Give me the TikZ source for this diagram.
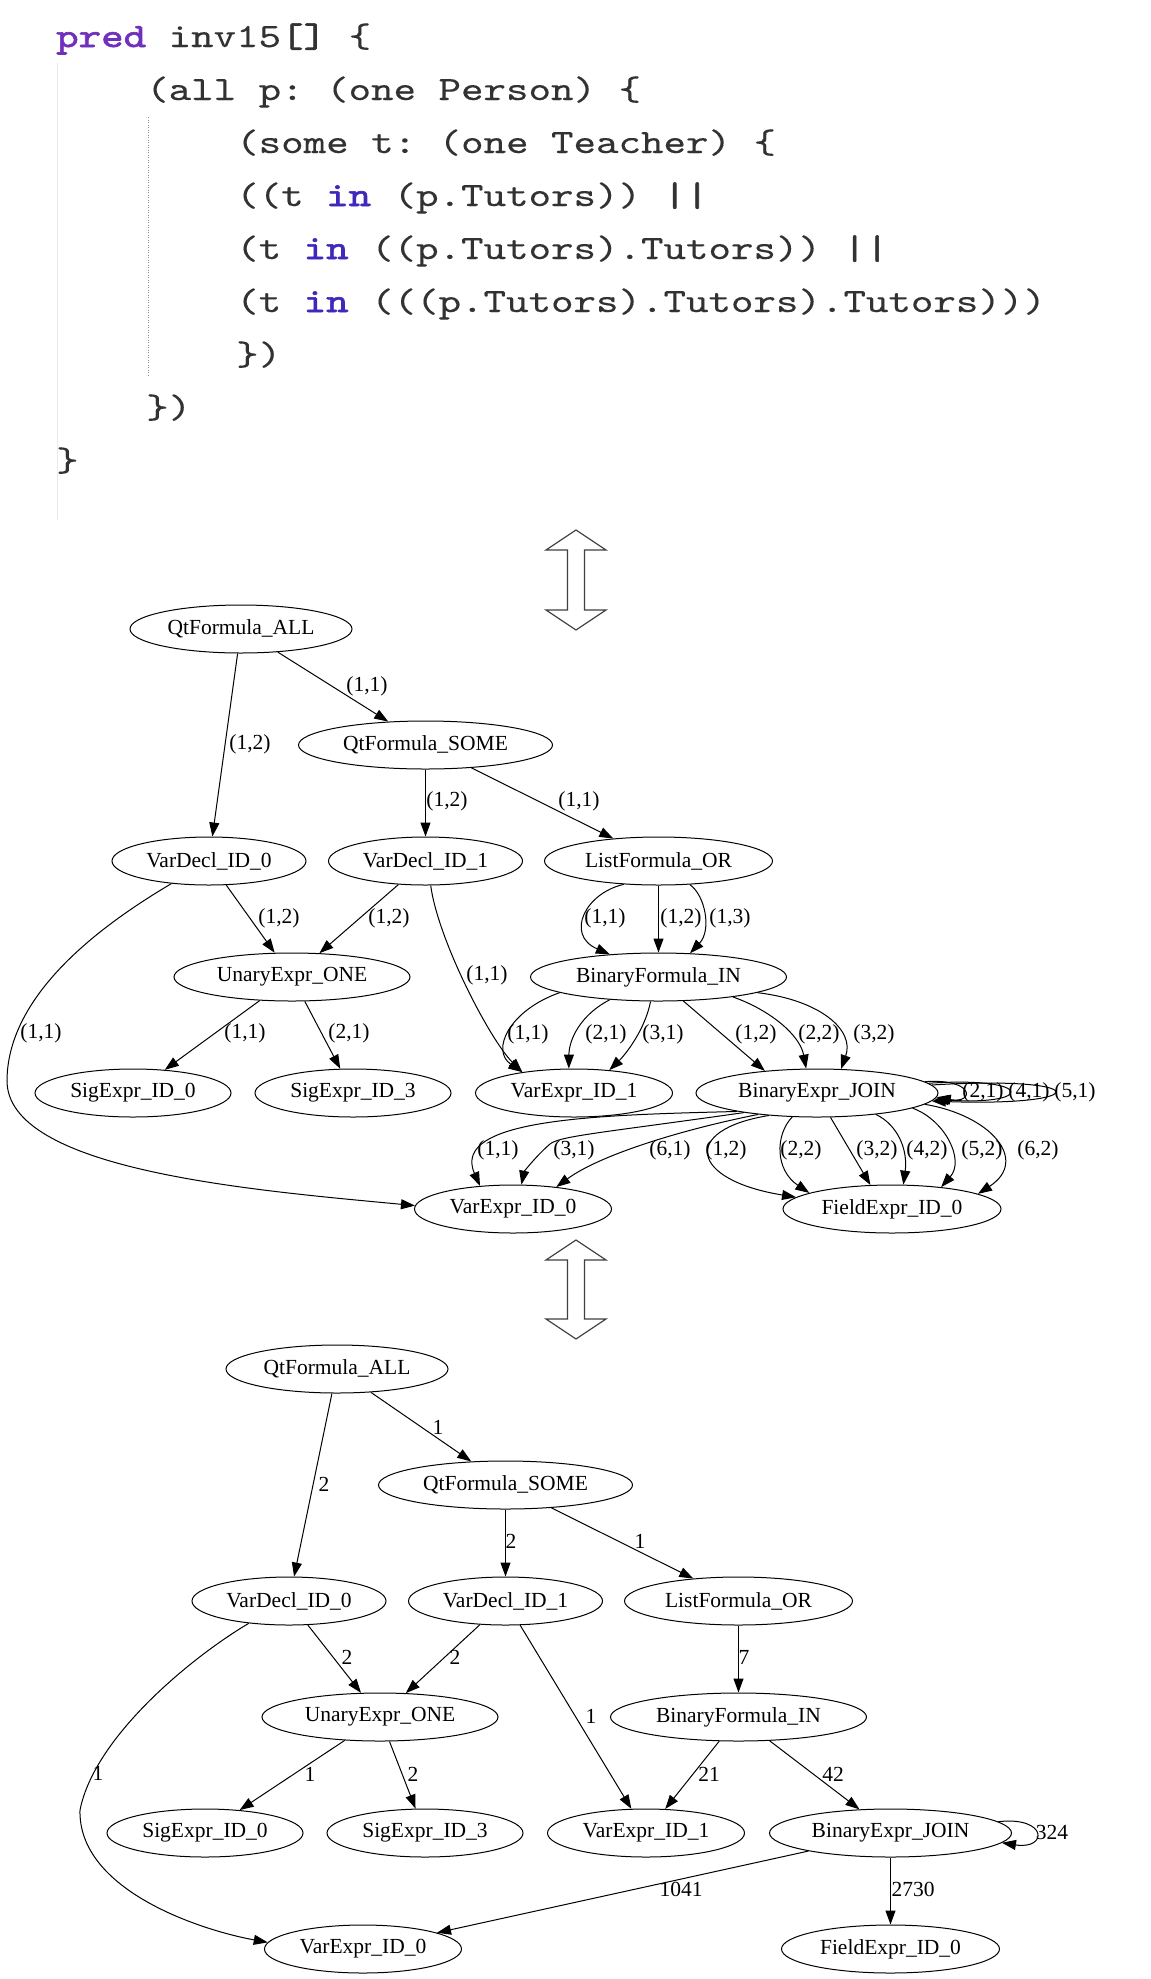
\documentclass[tikz,border=0pt]{standalone}
\usepackage{fontspec}
\usepackage{tikz}
\usetikzlibrary{shapes.geometric, arrows.meta}
\newfontfamily\gvfam{Liberation Serif}
\newcommand\gvfont{\gvfam\fontsize{21.5pt}{25pt}\selectfont}
\font\codefnt="[lmmono10-regular]:extend=1.26;embolden=0.2" at 34pt
\font\codefntb="[lmmono10-regular]:extend=1.26;embolden=1.8" at 34pt
\definecolor{kwpred}{RGB}{112,48,188}
\definecolor{kwin}{RGB}{64,40,186}
\definecolor{codetxt}{RGB}{50,50,50}
\tikzset{
  gv/.style={ellipse, draw, line width=1pt, inner sep=0pt, minimum height=48pt, font=\gvfont},
  lbl/.style={inner sep=0pt, font=\gvfont},
  gvarrow/.style={line width=1pt, -{Triangle[length=14pt,width=10pt]}},
  codeline/.style={inner sep=0pt, anchor=base west, text=codetxt, font=\codefnt\frenchspacing},
  dblarrow/.style={draw=black!75, line width=1.2pt, fill=white, line join=miter},
}
\begin{document}
\begin{tikzpicture}[x=1pt,y=-1pt]
\useasboundingbox (0,0) rectangle (1151,1979);
\fill[white] (0,0) rectangle (1151,1979);

% ---------------- code ----------------
\draw[black!8, line width=1pt] (57,63) -- (57,520);
\draw[black!45, line width=1pt, dash pattern=on 1pt off 1.5pt] (148,117) -- (148,375);
\node[codeline] (c1) at (56,47) {\textcolor{kwpred}{\codefntb pred} inv15{\codefntb []} \{};
\node[codeline] (c2) at (146,100) {(all p: (one Person) \{};
\node[codeline] (c3) at (236,153) {(some t: (one Teacher) \{};
\node[codeline] (c4) at (236,206) {((t \textcolor{kwin}{\codefntb in} (p.Tutors)) {\codefntb ||}};
\node[codeline] (c5) at (236,259) {(t \textcolor{kwin}{\codefntb in} ((p.Tutors).Tutors)) {\codefntb ||}};
\node[codeline] (c6) at (236,312) {(t \textcolor{kwin}{\codefntb in} (((p.Tutors).Tutors).Tutors)))};
\node[codeline] (c7) at (236,365) {\})};
\node[codeline] (c8) at (146,418) {\})};
\node[codeline] (c9) at (56,471) {\}};

% ---------------- double arrows ----------------
\draw[dblarrow] (576,530) -- (606,550) -- (584.5,550) -- (584.5,610) -- (606,610) -- (576,630)
  -- (546,610) -- (567.5,610) -- (567.5,550) -- (546,550) -- cycle;
\draw[dblarrow] (576,1240) -- (606,1260) -- (584.5,1260) -- (584.5,1319) -- (606,1319) -- (576,1339)
  -- (546,1319) -- (567.5,1319) -- (567.5,1260) -- (546,1260) -- cycle;

% ---------------- graph 1 ----------------
\node[gv, minimum width=222pt] (A1) at (241,629) {QtFormula\_ALL};
\node[gv, minimum width=254pt] (S1) at (425.5,745) {QtFormula\_SOME};
\node[gv, minimum width=194pt] (D0) at (209,861) {VarDecl\_ID\_0};
\node[gv, minimum width=194pt] (D1) at (425.5,861) {VarDecl\_ID\_1};
\node[gv, minimum width=228pt] (OR) at (658.5,861) {ListFormula\_OR};
\node[gv, minimum width=236pt] (U) at (292,977) {UnaryExpr\_ONE};
\node[gv, minimum width=256pt] (IN) at (658.5,977) {BinaryFormula\_IN};
\node[gv, minimum width=196pt] (G0) at (133,1093) {SigExpr\_ID\_0};
\node[gv, minimum width=196pt] (G3) at (353,1093) {SigExpr\_ID\_3};
\node[gv, minimum width=197pt] (V1) at (574,1093) {VarExpr\_ID\_1};
\node[gv, minimum width=242pt] (J) at (817,1093) {BinaryExpr\_JOIN};
\node[gv, minimum width=197pt] (V0) at (513,1209) {VarExpr\_ID\_0};
\node[gv, minimum width=218pt] (F) at (892,1209) {FieldExpr\_ID\_0};

\draw[gvarrow] (A1) -- (S1);
\draw[gvarrow] (A1) -- (D0);
\draw[gvarrow] (S1) -- (D1);
\draw[gvarrow] (S1) -- (OR);
\draw[gvarrow] (D0) -- (U);
\draw[gvarrow] (D1) -- (U);
\draw[gvarrow] (D1.-78) .. controls (438,940) and (490,1040) .. (V1.158);
\draw[gvarrow] (D0.-149) .. controls (110,920) and (8,990) .. (7,1080) .. controls (6,1170) and (250,1190) .. (V0.178);
\draw[gvarrow] (U) -- (G0);
\draw[gvarrow] (U) -- (G3);
\draw[gvarrow] (OR.-146) .. controls (585,893) and (565,935) .. (IN.155);
\draw[gvarrow] (OR) -- (IN);
\draw[gvarrow] (OR.-37) .. controls (705,895) and (712,930) .. (IN.37);
\draw[gvarrow] (IN.-171) .. controls (510,1010) and (490,1050) .. (V1.158);
\draw[gvarrow] (IN.-155) .. controls (580,1015) and (569,1040) .. (V1.102);
\draw[gvarrow] (IN.-108) .. controls (645,1030) and (625,1055) .. (V1.33);
\draw[gvarrow] (IN.-44) -- (J.157);
\draw[gvarrow] (IN.-15) .. controls (770,1010) and (800,1035) .. (J.114);
\draw[gvarrow] (IN.-9) .. controls (820,1000) and (855,1030) .. (J.45);
\draw[gvarrow] (J.6) .. controls (975,1078) and (975,1104) .. (J.-2);
\draw[gvarrow] (J.5) .. controls (1035,1076) and (1035,1106) .. (J.-3);
\draw[gvarrow] (J.4) .. controls (1095,1075) and (1095,1107) .. (J.-4);
\draw[gvarrow] (J.-167) .. controls (600,1115) and (450,1118) .. (V0.145);
\draw[gvarrow] (J.-165) .. controls (600,1133) and (560,1136) .. (550,1144) .. controls (535,1157) and (524,1172) .. (V0.71);
\draw[gvarrow] (J.-160) .. controls (680,1130) and (600,1155) .. (V0.27);
\draw[gvarrow] (J.-155) .. controls (680,1130) and (690,1180) .. (F.173);
\draw[gvarrow] (J.-136) .. controls (775,1135) and (775,1170) .. (F.169);
\draw[gvarrow] (J.-61) -- (F.132);
\draw[gvarrow] (J.-20) .. controls (898,1125) and (908,1150) .. (F.65);
\draw[gvarrow] (J.-9) .. controls (945,1120) and (965,1160) .. (F.24);
\draw[gvarrow] (J.-6) .. controls (990,1115) and (1030,1160) .. (F.10);

\node[lbl] (a1) at (367,686) {(1,1)};
\node[lbl] (a2) at (250,744) {(1,2)};
\node[lbl] (a3) at (447,801) {(1,2)};
\node[lbl] (a4) at (579,801) {(1,1)};
\node[lbl] (a5) at (279,918) {(1,2)};
\node[lbl] (a6) at (389,918) {(1,2)};
\node[lbl] (a7) at (605,918) {(1,1)};
\node[lbl] (a8) at (681,918) {(1,2)};
\node[lbl] (a9) at (730,918) {(1,3)};
\node[lbl] (a10) at (487,975) {(1,1)};
\node[lbl] (a11) at (41,1033) {(1,1)};
\node[lbl] (a12) at (245,1033) {(1,1)};
\node[lbl] (a13) at (349,1033) {(2,1)};
\node[lbl] (a14) at (528,1034) {(1,1)};
\node[lbl] (a15) at (606,1034) {(2,1)};
\node[lbl] (a16) at (663,1034) {(3,1)};
\node[lbl] (a17) at (756,1034) {(1,2)};
\node[lbl] (a18) at (819,1034) {(2,2)};
\node[lbl] (a19) at (874,1034) {(3,2)};
\node[lbl] (a20) at (983,1092) {(2,1)};
\node[lbl] (a21) at (1029,1092) {(4,1)};
\node[lbl] (a22) at (1075,1092) {(5,1)};
\node[lbl] (a23) at (498,1150) {(1,1)};
\node[lbl] (a24) at (574,1150) {(3,1)};
\node[lbl] (a25) at (670,1150) {(6,1)};
\node[lbl] (a26) at (726,1150) {(1,2)};
\node[lbl] (a27) at (801,1150) {(2,2)};
\node[lbl] (a28) at (877,1150) {(3,2)};
\node[lbl] (a29) at (927,1150) {(4,2)};
\node[lbl] (a30) at (982,1150) {(5,2)};
\node[lbl] (a31) at (1038,1150) {(6,2)};

% ---------------- graph 2 ----------------
\node[gv, minimum width=222pt] (A2) at (337,1369) {QtFormula\_ALL};
\node[gv, minimum width=254pt] (S2) at (505.5,1485) {QtFormula\_SOME};
\node[gv, minimum width=194pt] (D0b) at (289,1601) {VarDecl\_ID\_0};
\node[gv, minimum width=194pt] (D1b) at (505.5,1601) {VarDecl\_ID\_1};
\node[gv, minimum width=228pt] (ORb) at (738.5,1601) {ListFormula\_OR};
\node[gv, minimum width=236pt] (Ub) at (380,1717) {UnaryExpr\_ONE};
\node[gv, minimum width=256pt] (INb) at (738.5,1717) {BinaryFormula\_IN};
\node[gv, minimum width=196pt] (G0b) at (205,1833) {SigExpr\_ID\_0};
\node[gv, minimum width=196pt] (G3b) at (425,1833) {SigExpr\_ID\_3};
\node[gv, minimum width=197pt] (V1b) at (646,1833) {VarExpr\_ID\_1};
\node[gv, minimum width=242pt] (Jb) at (890.5,1833) {BinaryExpr\_JOIN};
\node[gv, minimum width=197pt] (V0b) at (363,1949) {VarExpr\_ID\_0};
\node[gv, minimum width=218pt] (Fb) at (890.5,1949) {FieldExpr\_ID\_0};

\draw[gvarrow] (A2) -- (S2);
\draw[gvarrow] (A2) -- (D0b);
\draw[gvarrow] (S2) -- (D1b);
\draw[gvarrow] (S2) -- (ORb);
\draw[gvarrow] (ORb) -- (INb);
\draw[gvarrow] (D0b) -- (Ub);
\draw[gvarrow] (D1b) -- (Ub);
\draw[gvarrow] (D1b) -- (V1b);
\draw[gvarrow] (D0b.-151) .. controls (195,1655) and (95,1735) .. (80,1810) .. controls (78,1890) and (200,1930) .. (V0b.176);
\draw[gvarrow] (Ub) -- (G0b);
\draw[gvarrow] (Ub) -- (G3b);
\draw[gvarrow] (INb) -- (V1b);
\draw[gvarrow] (INb) -- (Jb);
\draw[gvarrow] (Jb.6) .. controls (1048,1816) and (1048,1850) .. (Jb.-5);
\draw[gvarrow] (Jb) -- (V0b);
\draw[gvarrow] (Jb) -- (Fb);

\node[lbl] (b1) at (438,1427) {1};
\node[lbl] (b2) at (324,1484) {2};
\node[lbl] (b3) at (511,1541) {2};
\node[lbl] (b4) at (640,1541) {1};
\node[lbl] (b5) at (744,1657) {7};
\node[lbl] (b6) at (347,1657) {2};
\node[lbl] (b7) at (455,1657) {2};
\node[lbl] (b8) at (591,1716) {1};
\node[lbl] (b9) at (98,1773) {1};
\node[lbl] (b10) at (310,1774) {1};
\node[lbl] (b11) at (413,1774) {2};
\node[lbl] (b12) at (709,1774) {21};
\node[lbl] (b13) at (833,1774) {42};
\node[lbl] (b14) at (1052,1832) {324};
\node[lbl] (b15) at (681,1889) {1041};
\node[lbl] (b16) at (913,1889) {2730};
\end{tikzpicture}
\end{document}
